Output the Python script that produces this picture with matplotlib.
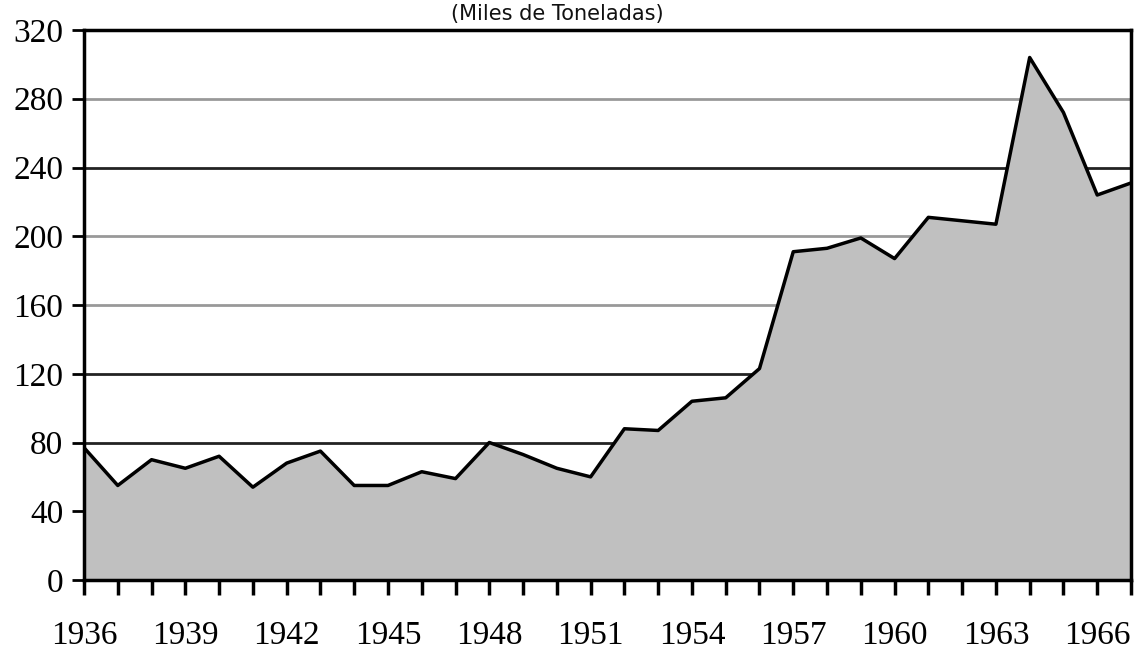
import matplotlib.pyplot as plt

# Miles de toneladas por año
years = list(range(1936, 1968))
values = [77, 55, 70, 65, 72, 54, 68, 75, 55, 55, 63, 59, 80, 73, 65, 60,
          88, 87, 104, 106, 123, 191, 193, 199, 187, 211, 209, 207, 304, 272, 224, 231]

grid_levels = [40, 80, 120, 160, 200, 240, 280]
grid_colors = ["#999999", "#222222", "#222222", "#999999", "#999999", "#222222", "#999999"]

fig = plt.figure(figsize=(11.34, 6.5), dpi=100)
ax = fig.add_axes([84/1134, 1 - 580/650, (1131 - 84)/1134, 550/650])

for lev, col in zip(grid_levels, grid_colors):
    ax.axhline(lev, color=col, lw=2, zorder=0)

ax.fill_between(years, values, 0, color="#c0c0c0", zorder=1)
ax.plot(years, values, color="black", lw=2.5, zorder=2)

ax.set_xlim(1936, 1967)
ax.set_ylim(0, 320)
ax.set_yticks(range(0, 321, 40))
ax.set_xticks(years, minor=True)
ax.set_xticks(range(1936, 1967, 3))

for s in ax.spines.values():
    s.set_linewidth(2.5)
    s.set_zorder(3)

ax.tick_params(axis="x", which="both", direction="out", length=11, width=2.5, pad=18)
ax.tick_params(axis="y", direction="out", length=9, width=2, pad=6)
for lab in ax.get_xticklabels() + ax.get_yticklabels():
    lab.set_fontfamily("Liberation Serif")
    lab.set_fontsize(24)

fig.text(557/1134, 1 - 20/650, "(Miles de Toneladas)", ha="center", va="baseline",
         fontsize=15, family="DejaVu Sans", color="#111111")

fig.savefig("out.png", dpi=100)
